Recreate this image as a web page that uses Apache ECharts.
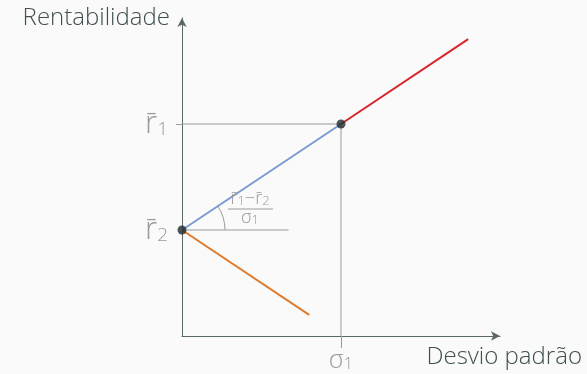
<!DOCTYPE html>
<html>
<head>
<meta charset="utf-8">
<script src="https://cdn.jsdelivr.net/npm/echarts@6/dist/echarts.min.js"></script>
<style>
  html, body { margin: 0; padding: 0; background: #fafafa; }
  #main { width: 587px; height: 374px; }
</style>
</head>
<body>
<div id="main"></div>
<script>
// desvio padrão (x) e rentabilidade (y)
var sigma1 = 1
var r1 = 2
var r2 = 1
var bluePts = [[0, r2], [sigma1, r1]]
var redPts = [[sigma1, r1], [1.8, 2.8]]
var orangePts = [[0, r2], [0.8, 0.2]]
var dots = [[0, r2], [sigma1, r1]]
var guideH = [[0, r1], [sigma1, r1]]
var guideV = [[sigma1, r1], [sigma1, 0]]
var baseLine = [[0, r2], [0.67, r2]]

var gray = '#9a9a9a'
var axisCol = '#5b6868'
var font = '"Open Sans", Lato, sans-serif'

var chart = echarts.init(document.getElementById('main'))

function lineSeries(data, color, width) {
  return {
    type: 'line',
    data: data,
    symbol: 'none',
    silent: true,
    lineStyle: { color: color, width: width },
    z: 2
  }
}

var option = {
  backgroundColor: '#fafafa',
  animation: false,
  grid: { left: 182, top: 18, width: 318, height: 318 },
  xAxis: {
    type: 'value',
    min: 0,
    max: 2,
    splitLine: { show: false },
    axisLine: { lineStyle: { color: axisCol, width: 1 }, symbol: ['none', 'arrow'], symbolSize: [7, 9] },
    axisTick: { show: true, customValues: [sigma1], length: 12, lineStyle: { color: gray } },
    axisLabel: {
      customValues: [sigma1],
      margin: 12,
      formatter: function () { return '{r|σ}{s|1}' },
      rich: {
        r: { fontSize: 25, color: gray, fontFamily: font, fontWeight: 300 },
        s: { fontSize: 17, color: gray, fontFamily: font, fontWeight: 300, verticalAlign: 'bottom', padding: [8, 0, 0, 0] }
      }
    },
    name: 'Desvio padrão',
    nameLocation: 'end',
    nameGap: 82,
    nameTextStyle: { color: '#3f4f4f', fontSize: 24, fontFamily: font, fontWeight: 300, align: 'right', verticalAlign: 'top', padding: [9, 0, 0, 0] }
  },
  yAxis: {
    type: 'value',
    min: 0,
    max: 3,
    splitLine: { show: false },
    axisLine: { lineStyle: { color: axisCol, width: 1 }, symbol: ['none', 'arrow'], symbolSize: [7, 9] },
    axisTick: { show: true, customValues: [r1], length: 6, lineStyle: { color: gray } },
    axisLabel: {
      customValues: [r2, r1],
      margin: 14,
      formatter: function (v) { return v === r1 ? '{r|r\u0304}{s|1}' : '{r|r\u0304}{s|2}' },
      rich: {
        r: { fontSize: 31, color: gray, fontFamily: font, fontWeight: 300 },
        s: { fontSize: 19, color: gray, fontFamily: font, fontWeight: 300, verticalAlign: 'bottom', padding: [10, 0, 0, 0] }
      }
    },
    name: 'Rentabilidade',
    nameLocation: 'end',
    nameGap: 0,
    nameTextStyle: { color: '#3f4f4f', fontSize: 24, fontFamily: font, fontWeight: 300, align: 'right', verticalAlign: 'middle', padding: [0, 12, 0, 0] }
  },
  series: [
    lineSeries(guideH, gray, 1),
    lineSeries(guideV, gray, 1),
    lineSeries(baseLine, gray, 1),
    lineSeries(bluePts, '#7b9bd2', 2),
    lineSeries(redPts, '#d8262c', 2),
    lineSeries(orangePts, '#e07b2b', 2),
    {
      type: 'custom',
      silent: true,
      data: [[0, r2]],
      z: 3,
      renderItem: function (params, api) {
        var p = api.coord([api.value(0), api.value(1)])
        var q = api.coord([sigma1, r1])
        var ang = Math.atan2(p[1] - q[1], q[0] - p[0])
        return {
          type: 'group',
          children: [
            {
              type: 'arc',
              shape: { cx: p[0], cy: p[1], r: 43, startAngle: -ang, endAngle: 0 },
              style: { stroke: gray, fill: null, lineWidth: 1 }
            },
            {
              type: 'text',
              x: p[0] + 68, y: p[1] - 22,
              style: {
                text: '{r|r\u0304}{s|1}{r|−r\u0304}{s|2}',
                align: 'center', verticalAlign: 'bottom',
                rich: {
                  r: { fontSize: 18, fill: gray, fontFamily: font, fontWeight: 300 },
                  s: { fontSize: 13, fill: gray, fontFamily: font, fontWeight: 300, verticalAlign: 'bottom', padding: [5, 0, 0, 0] }
                }
              }
            },
            {
              type: 'line',
              shape: { x1: p[0] + 46, y1: p[1] - 21, x2: p[0] + 91, y2: p[1] - 21 },
              style: { stroke: gray, lineWidth: 1 }
            },
            {
              type: 'text',
              x: p[0] + 68, y: p[1] - 21,
              style: {
                text: '{r|σ}{s|1}',
                align: 'center', verticalAlign: 'top',
                rich: {
                  r: { fontSize: 18, fill: gray, fontFamily: font, fontWeight: 300 },
                  s: { fontSize: 13, fill: gray, fontFamily: font, fontWeight: 300, verticalAlign: 'bottom', padding: [4, 0, 0, 0] }
                }
              }
            }
          ]
        }
      }
    },
    {
      type: 'scatter',
      data: dots,
      symbolSize: 9,
      silent: true,
      itemStyle: { color: '#1f2b2b' },
      z: 5
    }
  ]
}

chart.setOption(option)
</script>
</body>
</html>
